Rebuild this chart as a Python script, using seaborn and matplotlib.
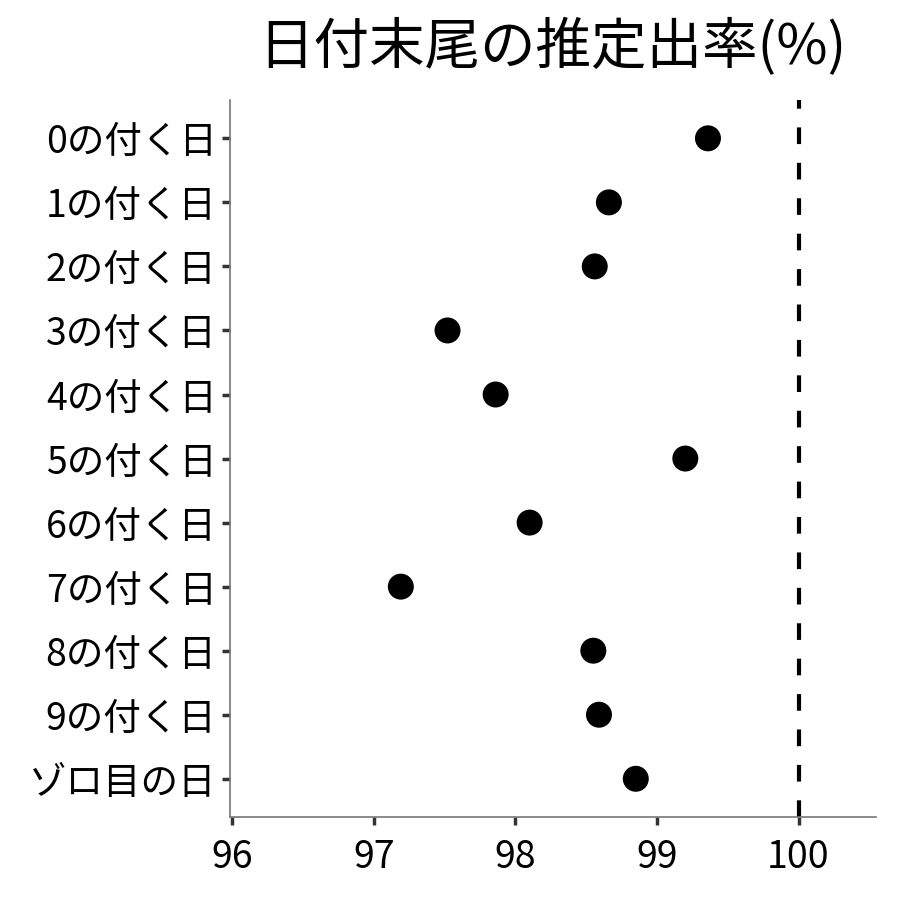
import matplotlib
matplotlib.use("Agg")
import matplotlib.pyplot as plt
import pandas as pd
import seaborn as sns

# データ
labels = ["0の付く日", "1の付く日", "2の付く日", "3の付く日", "4の付く日",
          "5の付く日", "6の付く日", "7の付く日", "8の付く日", "9の付く日", "ゾロ目の日"]
rates = [99.36, 98.66, 98.56, 97.52, 97.86, 99.20, 98.10, 97.19, 98.55, 98.59, 98.85]
xticks = [96, 97, 98, 99, 100]
title = "日付末尾の推定出率(%)"

df = pd.DataFrame({"label": labels, "rate": rates})

sns.set_style("white")
plt.rcParams["font.family"] = ["Noto Sans CJK JP", "DejaVu Sans"]

fig = plt.figure(figsize=(9, 9), dpi=100)
ax = fig.add_axes([0.256, 0.092, 0.717, 0.797])

sns.scatterplot(data=df, x="rate", y="label", color="black", s=350,
                edgecolor="none", ax=ax, zorder=3)
# 100%の基準線
ax.axvline(100, color="black", linestyle=(0, (4, 4.5)), linewidth=3)

ax.set_xlim(95.986, 100.545)
ax.set_ylim(len(labels) - 0.4, -0.6)
ax.set_xticks(xticks)
ax.set_xticklabels([str(v) for v in xticks])
ax.set_xlabel("")
ax.set_ylabel("")

for side in ["top", "right"]:
    ax.spines[side].set_visible(False)
for side in ["left", "bottom"]:
    ax.spines[side].set_color("#777777")
    ax.spines[side].set_linewidth(1.2)

ax.tick_params(axis="both", which="both", length=6, width=2.5, color="#333333",
               labelsize=27, labelcolor="black", pad=4, direction="out")
ax.tick_params(axis="x", bottom=True, pad=9)
ax.tick_params(axis="y", left=True)

fig.text(0.614, 0.947, title, ha="center", va="center", fontsize=40, color="black")

fig.savefig("out.png", dpi=100)
